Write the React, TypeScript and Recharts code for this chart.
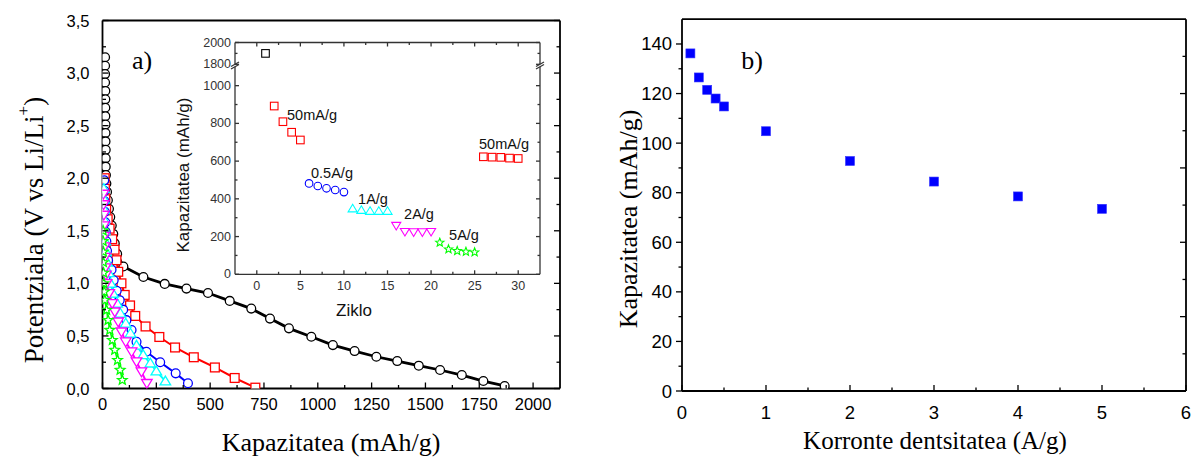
import React from 'react';
import { LineChart, Line, XAxis, YAxis, ScatterChart, Scatter } from 'recharts';

// a) discharge curves, [capacity (mAh/g), potential (V)]
const curveFirst = [
  [12, 3.15], [12, 3.07], [12, 2.99], [12, 2.91], [13, 2.83], [13, 2.75], [13, 2.67], [13, 2.59],
  [14, 2.51], [14, 2.43], [14, 2.35], [15, 2.27], [15, 2.19], [15, 2.11], [16, 2.03], [18, 1.95],
  [21, 1.87], [25, 1.79], [30, 1.71], [36, 1.63], [43, 1.55], [50, 1.47], [57, 1.38], [68, 1.28],
  [97, 1.16], [190, 1.06], [289, 0.995], [390, 0.95], [490, 0.908], [591, 0.833], [691, 0.76],
  [778, 0.665], [866, 0.572], [970, 0.492], [1070, 0.413], [1171, 0.356], [1272, 0.302],
  [1369, 0.261], [1469, 0.217], [1568, 0.176], [1669, 0.128], [1769, 0.071], [1868, 0.024],
];
const curve50 = [
  [10, 2.0], [11, 1.9], [13, 1.8], [17, 1.7], [24, 1.61], [33, 1.52], [45, 1.42], [56, 1.32],
  [65, 1.22], [73, 1.11], [88, 1.0], [103, 0.89], [128, 0.79], [152, 0.69], [200, 0.59],
  [264, 0.49], [337, 0.39], [424, 0.297], [522, 0.2], [614, 0.1], [710, 0.008],
];
const curve05 = [
  [8, 1.98], [9, 1.88], [10, 1.78], [11, 1.68], [13, 1.58], [15, 1.49], [18, 1.4], [21, 1.31],
  [26, 1.22], [42, 1.13], [52, 1.03], [66, 0.93], [80, 0.84], [96, 0.75], [111, 0.65],
  [135, 0.556], [158, 0.445], [204, 0.35], [268, 0.25], [340, 0.144], [397, 0.05],
];
const curve1 = [
  [6, 1.9], [7, 1.8], [8, 1.7], [9, 1.6], [11, 1.5], [13, 1.4], [17, 1.3], [22, 1.2], [29, 1.1],
  [38, 1.0], [49, 0.905], [68, 0.81], [83, 0.715], [108, 0.62], [130, 0.525], [158, 0.41],
  [189, 0.32], [222, 0.24], [250, 0.165], [292, 0.07],
];
const curve2 = [
  [4, 1.85], [5, 1.75], [6, 1.65], [7, 1.55], [8, 1.45], [10, 1.35], [12, 1.25], [14, 1.15],
  [16, 1.08], [19, 1.0], [31, 0.905], [45, 0.81], [57, 0.73], [73, 0.635], [88, 0.54],
  [108, 0.445], [135, 0.35], [158, 0.255], [181, 0.16], [206, 0.05],
];
const curve5 = [
  [3, 1.5], [3, 1.4], [4, 1.3], [4, 1.2], [5, 1.1], [6, 1.0], [8, 0.92], [11, 0.84], [19, 0.746],
  [26, 0.65], [34, 0.556], [46, 0.46], [57, 0.366], [70, 0.27], [82, 0.176], [92, 0.08],
];

// a) inset, [cycle, capacity (mAh/g)]
const insetFirst = [[1, 1900]];
const inset50a = [[2, 892], [3, 809], [4, 753], [5, 712]];
const inset05 = [[6, 482], [7, 468], [8, 456], [9, 447], [10, 436]];
const inset1 = [[11, 348], [12, 340], [13, 335], [14, 335], [15, 335]];
const inset2 = [[16, 258], [17, 226], [18, 224], [19, 224], [20, 226]];
const inset5 = [[21, 168], [22, 133], [23, 124], [24, 120], [25, 117]];
const inset50b = [[26, 623], [27, 621], [28, 620], [29, 616], [30, 614]];

// b) rate capability
const currentDensity = [0.1, 0.2, 0.3, 0.4, 0.5, 1, 2, 3, 4, 5];
const rateCapacity = [136.2, 126.5, 121.5, 118, 114.8, 104.8, 92.8, 84.5, 78.5, 73.5];

// ticks
const capTicks = [0, 125, 250, 375, 500, 625, 750, 875, 1000, 1125, 1250, 1375, 1500, 1625, 1750, 1875, 2000];
const voltTicks = [0, 0.25, 0.5, 0.75, 1, 1.25, 1.5, 1.75, 2, 2.25, 2.5, 2.75, 3, 3.25, 3.5];
const cycleTicks = [0, 2.5, 5, 7.5, 10, 12.5, 15, 17.5, 20, 22.5, 25, 27.5, 30];
const insetLowTicks = [0, 100, 200, 300, 400, 500, 600, 700, 800, 900, 1000];
const insetHighTicks = [1800, 1900, 2000];
const densityTicks = [0, 0.5, 1, 1.5, 2, 2.5, 3, 3.5, 4, 4.5, 5, 5.5, 6];
const densityTopTicks = [0.6, 1.2, 1.8, 2.4, 3, 3.6, 4.2, 4.8, 5.4];
const rateTicks = [0, 10, 20, 30, 40, 50, 60, 70, 80, 90, 100, 110, 120, 130, 140];
const rateRightTicks = [15, 30, 45, 60, 75, 90, 105, 120, 135];

const toXY = (pts: number[][]) => pts.map(([x, y]) => ({ x, y }));

const SANS = '"Liberation Sans", Arial, sans-serif';
const SERIF = '"Liberation Serif", "Times New Roman", serif';

type Side = 'left' | 'right' | 'top' | 'bottom';
interface TickOpts {
  side: Side;
  major: number;
  out?: boolean;
  label?: (v: number) => string;
  fs?: number;
  gap?: number;
  long?: number;
  short?: number;
  color?: string;
}

const isMultiple = (v: number, m: number) => Math.abs(v / m - Math.round(v / m)) < 1e-6;

const makeTick = (o: TickOpts) => (props: any) => {
  const { x, y, payload } = props;
  const v = Number(payload.value);
  const major = isMultiple(v, o.major);
  const len = major ? (o.long ?? 6) : (o.short ?? 3.5);
  const d = o.out ? len : -len;
  const col = o.color ?? '#000';
  const gap = o.gap ?? 8;
  const txt = { fontFamily: SANS, fontSize: o.fs ?? 16, fill: col, stroke: 'none' };
  const show = o.label && major;
  let line = null;
  let text = null;
  if (o.side === 'bottom') {
    line = <line x1={x} y1={y} x2={x} y2={y + d} />;
    if (show) text = <text x={x} y={y + gap} textAnchor="middle" dominantBaseline="central" {...txt}>{o.label!(v)}</text>;
  } else if (o.side === 'top') {
    line = <line x1={x} y1={y} x2={x} y2={y - d} />;
  } else if (o.side === 'left') {
    line = <line x1={x} y1={y} x2={x - d} y2={y} />;
    if (show) text = <text x={x - gap} y={y} textAnchor="end" dominantBaseline="central" {...txt}>{o.label!(v)}</text>;
  } else {
    line = <line x1={x} y1={y} x2={x + d} y2={y} />;
  }
  return (
    <g stroke={col} strokeWidth={1.3}>
      {line}
      {text}
    </g>
  );
};

const starPoints = (cx: number, cy: number, ro: number, ri: number) => {
  const pts: string[] = [];
  for (let i = 0; i < 10; i++) {
    const a = (-90 + i * 36) * Math.PI / 180;
    const r = i % 2 ? ri : ro;
    pts.push(`${cx + r * Math.cos(a)},${cy + r * Math.sin(a)}`);
  }
  return pts.join(' ');
};

type Kind = 'circle' | 'square' | 'up' | 'down' | 'star';
const marker = (kind: Kind, color: string, r: number, sw = 1.2) => (p: any) => {
  const { cx, cy } = p;
  const key = `${kind}-${color}-${p.index}`;
  if (cx == null || cy == null) return <g key={key} />;
  const common = { fill: '#fff', stroke: color, strokeWidth: sw };
  if (kind === 'circle') return <circle key={key} cx={cx} cy={cy} r={r} {...common} />;
  if (kind === 'square') return <rect key={key} x={cx - r} y={cy - r} width={2 * r} height={2 * r} {...common} />;
  if (kind === 'up')
    return <polygon key={key} points={`${cx},${cy - r * 1.15} ${cx + r * 1.2},${cy + r * 0.85} ${cx - r * 1.2},${cy + r * 0.85}`} {...common} />;
  if (kind === 'down')
    return <polygon key={key} points={`${cx - r * 1.2},${cy - r * 0.85} ${cx + r * 1.2},${cy - r * 0.85} ${cx},${cy + r * 1.15}`} {...common} />;
  return <polygon key={key} points={starPoints(cx, cy, r * 1.15, r * 0.5)} {...common} />;
};

const comma = (v: number) => v.toFixed(1).replace('.', ',');
const plain = (v: number) => String(v);

const RED = '#ff0000';
const BLUE = '#0000ff';
const CYAN = '#00ffff';
const MAGENTA = '#ff00ff';
const GREEN = '#00ff00';
const INSET_AXIS = '#333';

const mainSeries = [
  { name: 'first', pts: curveFirst, color: '#000', kind: 'circle' as Kind, w: 2.8 },
  { name: '50mA', pts: curve50, color: RED, kind: 'square' as Kind, w: 2 },
  { name: '0.5A', pts: curve05, color: BLUE, kind: 'circle' as Kind, w: 2 },
  { name: '1A', pts: curve1, color: CYAN, kind: 'up' as Kind, w: 2 },
  { name: '2A', pts: curve2, color: MAGENTA, kind: 'down' as Kind, w: 2 },
  { name: '5A', pts: curve5, color: GREEN, kind: 'star' as Kind, w: 1.6 },
];

const insetSeries = [
  { name: '50a', pts: inset50a, color: RED, kind: 'square' as Kind },
  { name: '05', pts: inset05, color: BLUE, kind: 'circle' as Kind },
  { name: '1', pts: inset1, color: CYAN, kind: 'up' as Kind },
  { name: '2', pts: inset2, color: MAGENTA, kind: 'down' as Kind },
  { name: '5', pts: inset5, color: GREEN, kind: 'star' as Kind },
  { name: '50b', pts: inset50b, color: RED, kind: 'square' as Kind },
];

const abs = (left: number, top: number): React.CSSProperties => ({ position: 'absolute', left, top });

// every axis box is 1px thick; margins below are chosen so the plot edges land on the reference frame
const MAIN_LINE = { stroke: '#000', strokeWidth: 1.8 };
const INSET_LINE = { stroke: INSET_AXIS, strokeWidth: 1.3 };
const flat = { tickSize: 0, tickMargin: 0, tickLine: false, interval: 0 as const, allowDataOverflow: true };

const PanelA = () => (
  <div style={abs(0, 0)}>
    <LineChart width={600} height={461} margin={{ top: 19.5, right: 39, bottom: 71.5, left: 101.5 }}>
      <XAxis type="number" dataKey="x" domain={[0, 2125]} ticks={capTicks} height={1} axisLine={MAIN_LINE} {...flat}
        tick={makeTick({ side: 'bottom', major: 250, label: plain, gap: 15, fs: 16.5 })} />
      <XAxis xAxisId="top" orientation="top" type="number" domain={[0, 2125]} ticks={capTicks} height={1} axisLine={MAIN_LINE} {...flat}
        tick={makeTick({ side: 'top', major: 250 })} />
      <YAxis type="number" domain={[0, 3.5]} ticks={voltTicks} width={1} axisLine={MAIN_LINE} {...flat}
        tick={makeTick({ side: 'left', major: 0.5, label: comma, gap: 13, fs: 16.5 })} />
      <YAxis yAxisId="right" orientation="right" type="number" domain={[0, 3.5]} ticks={voltTicks} width={1} axisLine={MAIN_LINE} {...flat}
        tick={makeTick({ side: 'right', major: 0.5 })} />
      {mainSeries.map((s) => (
        <Line key={s.name} data={toXY(s.pts)} dataKey="y" type="linear" stroke={s.color} strokeWidth={s.w}
          dot={marker(s.kind, s.color, 4.4, 1.3)} activeDot={false} isAnimationActive={false} />
      ))}
    </LineChart>
  </div>
);

const InsetLow = () => (
  <div style={abs(0, 0)}>
    <ScatterChart width={600} height={461} margin={{ top: 66.8, right: 59, bottom: 185.7, left: 234 }}>
      <XAxis type="number" dataKey="x" domain={[-2.5, 32.5]} ticks={cycleTicks} height={1} axisLine={INSET_LINE} {...flat}
        tick={makeTick({ side: 'bottom', major: 5, label: plain, fs: 12.5, gap: 12, long: 4, short: 2.5, color: INSET_AXIS })} />
      <YAxis type="number" dataKey="y" domain={[0, 1100]} ticks={insetLowTicks} width={1} axisLine={INSET_LINE} {...flat}
        tick={makeTick({ side: 'left', major: 200, label: plain, fs: 12.5, gap: 4, long: 4, short: 2.5, color: INSET_AXIS })} />
      <YAxis yAxisId="right" orientation="right" type="number" domain={[0, 1100]} ticks={insetLowTicks} width={1} axisLine={INSET_LINE} {...flat}
        tick={makeTick({ side: 'right', major: 200, long: 4, short: 2.5, color: INSET_AXIS })} />
      {insetSeries.map((s) => (
        <Scatter key={s.name} data={toXY(s.pts)} shape={marker(s.kind, s.color, 3.8, 1.1)} isAnimationActive={false} />
      ))}
    </ScatterChart>
  </div>
);

const InsetHigh = () => (
  <div style={abs(0, 0)}>
    <ScatterChart width={600} height={461} margin={{ top: 41.5, right: 59, bottom: 396.7, left: 234 }}>
      <XAxis orientation="top" type="number" dataKey="x" domain={[-2.5, 32.5]} ticks={cycleTicks} height={1} axisLine={INSET_LINE} {...flat}
        tick={makeTick({ side: 'top', major: 5, long: 4, short: 2.5, color: INSET_AXIS })} />
      <YAxis type="number" dataKey="y" domain={[1800, 2000]} ticks={insetHighTicks} width={1} axisLine={INSET_LINE} {...flat}
        tick={makeTick({ side: 'left', major: 200, label: plain, fs: 12.5, gap: 4, long: 4, short: 2.5, color: INSET_AXIS })} />
      <YAxis yAxisId="right" orientation="right" type="number" domain={[1800, 2000]} ticks={insetHighTicks} width={1} axisLine={INSET_LINE} {...flat}
        tick={makeTick({ side: 'right', major: 200, long: 4, short: 2.5, color: INSET_AXIS })} />
      <Scatter data={toXY(insetFirst)} shape={marker('square', '#000', 3.8, 1.1)} isAnimationActive={false} />
    </ScatterChart>
  </div>
);

const PanelB = () => (
  <div style={abs(600, 0)}>
    <ScatterChart width={597} height={461} margin={{ top: 18.2, right: 10, bottom: 69, left: 81 }}>
      <XAxis type="number" dataKey="x" domain={[0, 6]} ticks={densityTicks} height={1} axisLine={MAIN_LINE} {...flat}
        tick={makeTick({ side: 'bottom', major: 1, label: plain, fs: 18.5, gap: 21 })} />
      <XAxis xAxisId="top" orientation="top" type="number" domain={[0, 6]} ticks={densityTopTicks} height={1} axisLine={MAIN_LINE} {...flat}
        tick={makeTick({ side: 'top', major: 1.2 })} />
      <YAxis type="number" dataKey="y" domain={[0, 150]} ticks={rateTicks} width={1} axisLine={MAIN_LINE} {...flat}
        tick={makeTick({ side: 'left', major: 20, out: true, label: plain, fs: 18.5, gap: 10 })} />
      <YAxis yAxisId="right" orientation="right" type="number" domain={[0, 150]} ticks={rateRightTicks} width={1} axisLine={MAIN_LINE} {...flat}
        tick={makeTick({ side: 'right', major: 30 })} />
      <Scatter data={currentDensity.map((x, i) => ({ x, y: rateCapacity[i] }))} isAnimationActive={false}
        shape={(p: any) => (
          <rect key={`b-${p.index}`} x={p.cx - 4.5} y={p.cy - 4.5} width={9} height={9} fill={BLUE} stroke="#3333ff" strokeWidth={0.6} />
        )} />
    </ScatterChart>
  </div>
);

const Overlay = () => (
  <svg width={1197} height={461} style={{ position: 'absolute', left: 0, top: 0, pointerEvents: 'none' }}>
    {/* axis break marks on the inset */}
    <g stroke={INSET_AXIS} strokeWidth={1.2}>
      <line x1={231} y1={66.5} x2={239} y2={62} />
      <line x1={231} y1={69} x2={239} y2={64.5} />
      <line x1={536} y1={66.5} x2={544} y2={62} />
      <line x1={536} y1={69} x2={544} y2={64.5} />
    </g>
    <g fontFamily={SERIF} fill="#000">
      <text x={142} y={60} fontSize={26} textAnchor="middle" dominantBaseline="central">a)</text>
      <text x={752} y={60} fontSize={26} textAnchor="middle" dominantBaseline="central">b)</text>
      <text x={331} y={442} fontSize={26} textAnchor="middle" dominantBaseline="central">Kapazitatea (mAh/g)</text>
      <text x={935} y={440} fontSize={25} textAnchor="middle" dominantBaseline="central">Korronte dentsitatea (A/g)</text>
      <text transform="translate(628,219) rotate(-90)" fontSize={26} textAnchor="middle" dominantBaseline="central">Kapazitatea (mAh/g)</text>
      <text transform="translate(34,230) rotate(-90)" fontSize={27} textAnchor="middle" dominantBaseline="central">
        Potentziala (V vs Li/Li<tspan dy={-11} fontSize={17}>+</tspan><tspan dy={11}>)</tspan>
      </text>
    </g>
    <g fontFamily={SANS} fill="#111">
      <text x={354} y={310} fontSize={17} textAnchor="middle" dominantBaseline="central">Ziklo</text>
      <text transform="translate(183,175) rotate(-90)" fontSize={17} textAnchor="middle" dominantBaseline="central">Kapazitatea (mAh/g)</text>
      <text x={312} y={115} fontSize={14.5} textAnchor="middle" dominantBaseline="central">50mA/g</text>
      <text x={332} y={173} fontSize={14.5} textAnchor="middle" dominantBaseline="central">0.5A/g</text>
      <text x={373} y={199} fontSize={14.5} textAnchor="middle" dominantBaseline="central">1A/g</text>
      <text x={419} y={214} fontSize={14.5} textAnchor="middle" dominantBaseline="central">2A/g</text>
      <text x={464} y={235} fontSize={14.5} textAnchor="middle" dominantBaseline="central">5A/g</text>
      <text x={504} y={144} fontSize={14.5} textAnchor="middle" dominantBaseline="central">50mA/g</text>
    </g>
  </svg>
);

export default function App() {
  return (
    <div style={{ position: 'absolute', left: 0, top: 0, width: 1197, height: 461, background: '#fff', overflow: 'hidden' }}>
      <PanelA />
      <InsetLow />
      <InsetHigh />
      <PanelB />
      <Overlay />
    </div>
  );
}
